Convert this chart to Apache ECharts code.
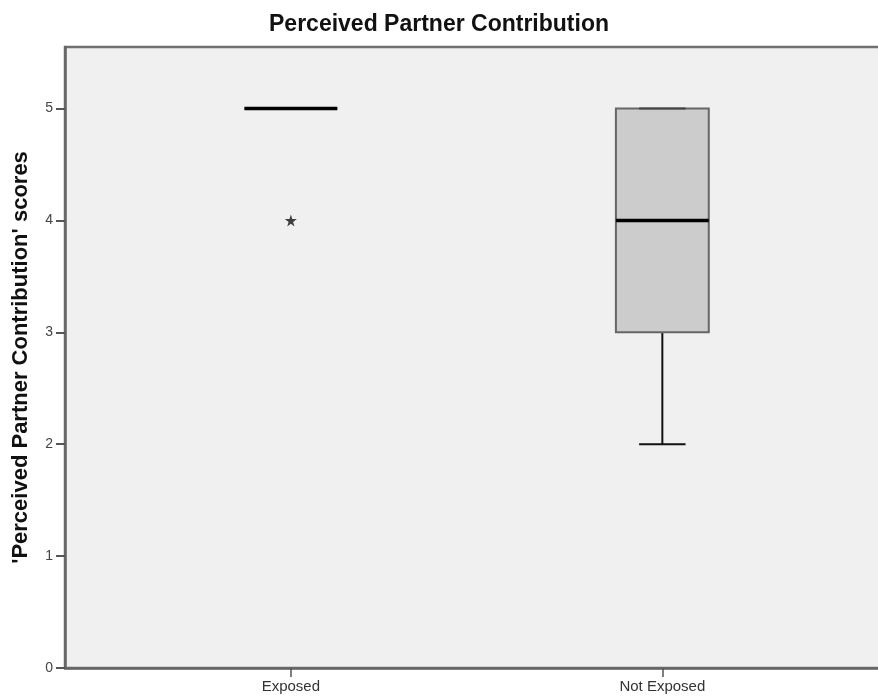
<!DOCTYPE html>
<html>
<head>
<meta charset="utf-8">
<script src="https://cdn.jsdelivr.net/npm/echarts@6/dist/echarts.min.js"></script>
<style>
  html, body { margin: 0; padding: 0; background: #fff; }
  #chart { width: 878px; height: 698px; }
</style>
</head>
<body>
<div id="chart"></div>
<script>
// 组别与箱线图数据 [min, Q1, median, Q3, max]
const groups = ['Exposed', 'Not Exposed'];
const boxStats = [
    [5, 5, 5, 5, 5],
    [2, 3, 4, 5, 5]
];
// 离群点 [组序号, 值]
const outliers = [[0, 4]];
const yTicks = [0, 1, 2, 3, 4, 5];

const font = '"Liberation Sans", Arial, sans-serif';
const starPath = 'path://M50,0 L61,35 L98,35 L68,57 L79,91 L50,70 L21,91 L32,57 L2,35 L39,35 Z';

const chart = echarts.init(document.getElementById('chart'));

// 组的位置:1, 2
const boxData = boxStats.map((s, i) => [i + 1].concat(s));
const outlierData = outliers.map(o => [o[0] + 1, o[1]]);

function renderBox(params, api) {
    const x = api.value(0);
    const lo = api.coord([x, api.value(1)]);
    const q1 = api.coord([x, api.value(2)]);
    const med = api.coord([x, api.value(3)]);
    const q3 = api.coord([x, api.value(4)]);
    const hi = api.coord([x, api.value(5)]);
    const halfBox = (api.coord([x + 0.125, 0])[0] - lo[0]);
    const halfCap = halfBox / 2;
    const cx = lo[0];
    const black = { stroke: '#111', lineWidth: 2 };
    return {
        type: 'group',
        children: [
            { type: 'line', shape: { x1: cx, y1: hi[1], x2: cx, y2: q3[1] }, style: black },
            { type: 'line', shape: { x1: cx, y1: q1[1], x2: cx, y2: lo[1] }, style: black },
            {
                type: 'rect',
                shape: { x: cx - halfBox, y: q3[1], width: halfBox * 2, height: q1[1] - q3[1] },
                style: { fill: '#cccccc', stroke: '#666', lineWidth: 2 }
            },
            { type: 'line', shape: { x1: cx - halfCap, y1: hi[1], x2: cx + halfCap, y2: hi[1] }, style: { stroke: '#444', lineWidth: 2 } },
            { type: 'line', shape: { x1: cx - halfCap, y1: lo[1], x2: cx + halfCap, y2: lo[1] }, style: black },
            { type: 'line', shape: { x1: cx - halfBox, y1: med[1], x2: cx + halfBox, y2: med[1] }, style: { stroke: '#000', lineWidth: 3.5 } }
        ]
    };
}

chart.setOption({
    animation: false,
    title: {
        text: 'Perceived Partner Contribution',
        left: 'center',
        top: 8,
        textStyle: { fontFamily: font, fontSize: 23, fontWeight: 'bold', color: '#111' }
    },
    grid: {
        left: 65,
        right: -5,
        top: 47,
        bottom: 30,
        outerBoundsMode: 'none',
        containLabel: false,
        show: true,
        backgroundColor: '#f0f0f0',
        borderColor: '#707070',
        borderWidth: 2.5
    },
    xAxis: {
        type: 'value',
        min: 0.392,
        max: 2.594,
        splitLine: { show: false },
        axisLine: { show: true, onZero: false, lineStyle: { color: '#666', width: 2.5 } },
        axisTick: {
            show: true,
            length: 9,
            customValues: [1, 2],
            lineStyle: { color: '#555', width: 1.5 }
        },
        axisLabel: {
            customValues: [1, 2],
            margin: 11,
            fontFamily: font,
            fontSize: 15,
            color: '#333',
            formatter: v => groups[Math.round(v) - 1] || ''
        }
    },
    yAxis: {
        type: 'value',
        min: 0,
        max: 5.55,
        interval: 1,
        name: "'Perceived Partner Contribution' scores",
        nameLocation: 'middle',
        nameGap: 33,
        nameTextStyle: { fontFamily: font, fontSize: 22, fontWeight: 'bold', color: '#111' },
        splitLine: { show: false },
        axisLine: { show: true, lineStyle: { color: '#666', width: 2.5 } },
        axisTick: { show: true, length: 9, customValues: yTicks, lineStyle: { color: '#555', width: 2 } },
        axisLabel: {
            customValues: yTicks,
            margin: 12,
            fontFamily: font,
            fontSize: 14,
            color: '#444'
        }
    },
    series: [
        {
            type: 'custom',
            renderItem: renderBox,
            encode: { x: 0, y: [1, 2, 3, 4, 5] },
            data: boxData
        },
        {
            type: 'scatter',
            symbol: starPath,
            symbolSize: 12,
            itemStyle: { color: '#111' },
            data: outlierData
        }
    ]
});
</script>
</body>
</html>
